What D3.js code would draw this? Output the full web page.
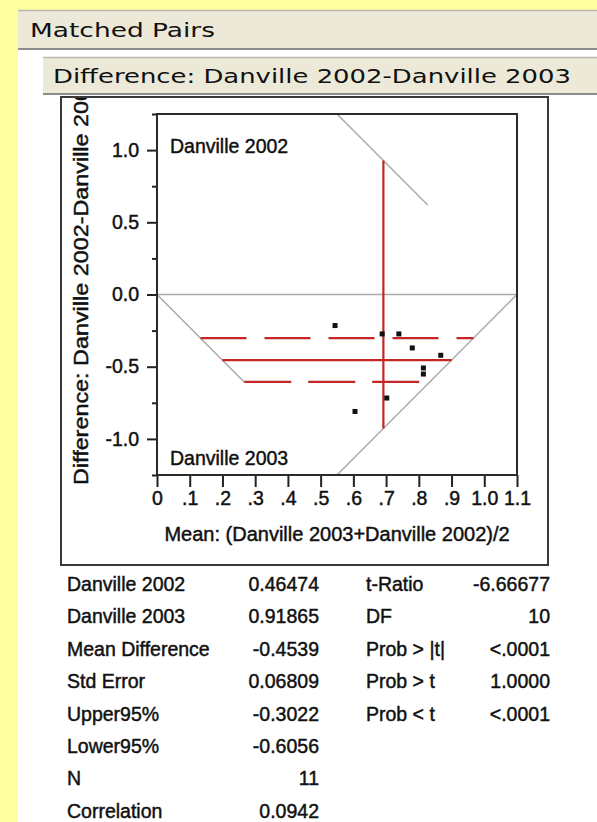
<!DOCTYPE html>
<html>
<head>
<meta charset="utf-8">
<script src="https://cdn.jsdelivr.net/npm/d3@7"></script>
<style>
  body { margin: 0; background: #ffffa0; }
  svg text { font-family: "Liberation Sans", Arial, sans-serif; fill: #111; }
  svg text.heavy, svg .tick text { stroke: #111; stroke-width: 0.45px; }
</style>
</head>
<body>
<div id="chart"></div>
<script>
// points: mean of the pair (x) and difference 2002-2003 (y)
var pairMeans = [0.544, 0.688, 0.739, 0.780, 0.867, 0.814, 0.814, 0.702, 0.605];
var pairDiffs = [-0.215, -0.273, -0.273, -0.370, -0.421, -0.509, -0.551, -0.717, -0.810];

var mean2002 = 0.46474, mean2003 = 0.91865;
var meanDiff = -0.4539, upper95 = -0.3022, lower95 = -0.6056;
var topEdgeEnd = 0.62;

var xTicks = [0, .1, .2, .3, .4, .5, .6, .7, .8, .9, 1.0, 1.1];
var xTickLabels = ["0", ".1", ".2", ".3", ".4", ".5", ".6", ".7", ".8", ".9", "1.0", "1.1"];
var yMajor = [-1, -0.5, 0, 0.5, 1];
var yTickLabels = ["-1.0", "-0.5", "0.0", "0.5", "1.0"];
var yMinor = [-1.25, -0.75, -0.25, 0.25, 0.75, 1.25];

var statLabels = ["Danville 2002", "Danville 2003", "Mean Difference", "Std Error", "Upper95%", "Lower95%", "N", "Correlation"];
var statValues = ["0.46474", "0.91865", "-0.4539", "0.06809", "-0.3022", "-0.6056", "11", "0.0942"];
var testLabels = ["t-Ratio", "DF", "Prob > |t|", "Prob > t", "Prob < t"];
var testValues = ["-6.66677", "10", "<.0001", "1.0000", "<.0001"];

var W = 597, H = 822;
var svg = d3.select("#chart").append("svg")
    .attr("width", W).attr("height", H);

// white report area and the two outline headers
svg.append("rect").attr("x", 18).attr("y", 10).attr("width", W).attr("height", H).attr("fill", "#fff");

function header(x, y, h, label, tx, ty, len) {
  svg.append("rect").attr("x", x).attr("y", y).attr("width", W - x).attr("height", h)
      .attr("fill", "#ece9d8");
  svg.append("line").attr("x1", x).attr("x2", W).attr("y1", y - 0.5).attr("y2", y - 0.5)
      .attr("stroke", "#b8b8b0").attr("stroke-width", 1.5);
  svg.append("line").attr("x1", x).attr("x2", W).attr("y1", y + h + 1).attr("y2", y + h + 1)
      .attr("stroke", "#8c8c88").attr("stroke-width", 2);
  svg.append("text").attr("x", tx).attr("y", ty)
      .style("font-family", "'DejaVu Sans', sans-serif").style("font-size", "19px")
      .attr("textLength", len).attr("lengthAdjust", "spacingAndGlyphs")
      .text(label);
}
header(18, 11, 37, "Matched Pairs", 30, 37, 185);
header(43, 58, 35, "Difference: Danville 2002-Danville 2003", 53, 83, 518);

// outer frame
svg.append("clipPath").attr("id", "outer")
  .append("rect").attr("x", 62).attr("y", 98).attr("width", 486).attr("height", 466);
svg.append("rect").attr("x", 61).attr("y", 97).attr("width", 487).attr("height", 468)
    .attr("fill", "none").attr("stroke", "#3a3a3a").attr("stroke-width", 2);

var x = d3.scaleLinear().domain([0, 1.1]).range([157, 517]);
var y = d3.scaleLinear().domain([-1.25, 1.25]).range([475, 114]);

// rotated frame of the original scatterplot
var k = 1.25 / 0.55;
function leftEdge(d) { return -d / k; }
function rightEdge(d) { return 1.1 + d / k; }
function topRight(d) { return 1.1 - d / k; }

var greySegs = [
  [[0, 0], [1.1, 0]],
  [[0, 0], [leftEdge(lower95), lower95]],
  [[0.55, -1.25], [1.1, 0]],
  [[0.55, 1.25], [topRight(topEdgeEnd), topEdgeEnd]]
];
svg.selectAll(".grey").data(greySegs).enter().append("line")
    .attr("class", "grey")
    .attr("x1", function(d) { return x(d[0][0]); }).attr("y1", function(d) { return y(d[0][1]); })
    .attr("x2", function(d) { return x(d[1][0]); }).attr("y2", function(d) { return y(d[1][1]); })
    .attr("stroke", "#aaa").attr("stroke-width", 1.5);

// mean difference and confidence limits
var redLines = [
  {d: upper95, dash: "46,18"},
  {d: meanDiff, dash: null},
  {d: lower95, dash: "47,17"}
];
svg.selectAll(".red").data(redLines).enter().append("line")
    .attr("class", "red")
    .attr("x1", function(d) { return x(leftEdge(d.d)); })
    .attr("x2", function(d) { return x(rightEdge(d.d)); })
    .attr("y1", function(d) { return y(d.d); })
    .attr("y2", function(d) { return y(d.d); })
    .attr("stroke", "#c42626").attr("stroke-width", 2.2)
    .attr("stroke-dasharray", function(d) { return d.dash; });

var meanOfMeans = (mean2002 + mean2003) / 2;
svg.append("line")
    .attr("x1", x(meanOfMeans)).attr("x2", x(meanOfMeans))
    .attr("y1", y(k * (1.1 - meanOfMeans))).attr("y2", y(-k * (1.1 - meanOfMeans)))
    .attr("stroke", "#c42626").attr("stroke-width", 2.2);

svg.selectAll(".dot").data(pairMeans).enter().append("rect")
    .attr("class", "dot")
    .attr("x", function(d) { return x(d) - 2.5; })
    .attr("y", function(d, i) { return y(pairDiffs[i]) - 2.5; })
    .attr("width", 5).attr("height", 5)
    .attr("fill", "#111");

// axes
var xAxis = d3.axisBottom(x).tickValues(xTicks).tickSize(12).tickPadding(4)
    .tickFormat(function(d, i) { return xTickLabels[i]; });
var gx = svg.append("g").attr("transform", "translate(0,475)").call(xAxis);

var yAxis = d3.axisLeft(y).tickValues(yMajor).tickSize(10).tickPadding(8)
    .tickFormat(function(d, i) { return yTickLabels[i]; });
var gy = svg.append("g").attr("transform", "translate(157,0)").call(yAxis);
var gyMinor = svg.append("g").attr("transform", "translate(157,0)")
    .call(d3.axisLeft(y).tickValues(yMinor).tickSize(5).tickFormat(""));

[gx, gy, gyMinor].forEach(function(g) {
  g.select(".domain").remove();
  g.selectAll(".tick line").attr("stroke", "#222").attr("stroke-width", 2);
  g.selectAll(".tick text").style("font-size", "19.5px").attr("fill", "#111");
});
gx.selectAll(".tick text").attr("dy", "0.72em");

// plot frame
svg.append("rect").attr("x", 157).attr("y", 114).attr("width", 360).attr("height", 361)
    .attr("fill", "none").attr("stroke", "#2a2a2a").attr("stroke-width", 2);

svg.append("text").attr("class", "heavy").attr("x", 170).attr("y", 153).style("font-size", "19.5px").text("Danville 2002");
svg.append("text").attr("class", "heavy").attr("x", 170).attr("y", 465).style("font-size", "19.5px").text("Danville 2003");

svg.append("text").attr("class", "heavy")
    .attr("x", 337).attr("y", 541)
    .style("text-anchor", "middle").style("font-size", "20px")
    .text("Mean: (Danville 2003+Danville 2002)/2");

svg.append("g").attr("clip-path", "url(#outer)")
  .append("text").attr("class", "heavy")
    .attr("transform", "translate(88,485) rotate(-90)")
    .style("font-size", "20px")
    .attr("textLength", 410).attr("lengthAdjust", "spacingAndGlyphs")
    .text("Difference: Danville 2002-Danville 2003");

// statistics tables
var rowY = function(i) { return 591 + i * 32.4; };
var left = svg.append("g").style("font-size", "19.5px");
left.selectAll(".sl").data(statLabels).enter().append("text").attr("class", "heavy")
    .attr("x", 67).attr("y", function(d, i) { return rowY(i); }).text(function(d) { return d; });
left.selectAll(".sv").data(statValues).enter().append("text").attr("class", "heavy")
    .attr("x", 319).attr("y", function(d, i) { return rowY(i); })
    .style("text-anchor", "end").text(function(d) { return d; });

var right = svg.append("g").style("font-size", "19.5px");
right.selectAll(".tl").data(testLabels).enter().append("text").attr("class", "heavy")
    .attr("x", 366).attr("y", function(d, i) { return rowY(i); }).text(function(d) { return d; });
right.selectAll(".tv").data(testValues).enter().append("text").attr("class", "heavy")
    .attr("x", 550).attr("y", function(d, i) { return rowY(i); })
    .style("text-anchor", "end").text(function(d) { return d; });
</script>
</body>
</html>
